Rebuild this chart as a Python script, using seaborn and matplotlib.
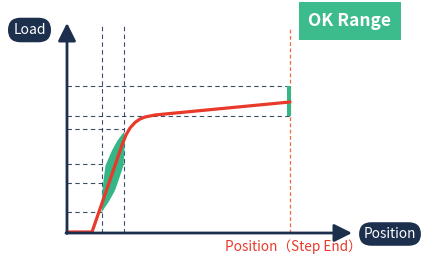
import matplotlib
matplotlib.use("Agg")
import matplotlib.pyplot as plt
import numpy as np
import seaborn as sns

# load curve (position, load) in arbitrary units
curve_pos = [0.0, 2.5, 4.3, 5.5, 5.9, 6.3, 6.8, 7.3, 7.8, 8.8, 9.8, 22.3]
curve_load = [0.1, 0.1, 5.3, 8.8, 9.8, 10.5, 11.05, 11.4, 11.6, 11.8, 11.9, 13.1]

# green judgement band along the rising slope
band_load = [2.1, 3.3, 4.3, 5.3, 6.8, 8.3, 9.3, 10.1]
band_left = [3.4, 3.45, 3.5, 3.6, 3.8, 4.45, 5.0, 5.6]
band_right = [3.4, 4.2, 4.75, 5.1, 5.6, 5.7, 5.7, 5.7]

# guide lines
h_levels = [14.7, 11.7, 10.4, 6.9, 5.0, 2.1]
h_ends = [22.3, 22.3, 5.7, 5.7, 3.5, 3.5]
v_guides = [3.5, 5.7]
step_end = 22.3
ok_low, ok_high = 11.7, 14.7

navy = "#1c2f4d"
red = "#e8392a"
green = "#34b686"

sns.set_theme(style="white")
plt.rcParams["font.family"] = ["Noto Sans CJK JP", "DejaVu Sans"]

fig = plt.figure(figsize=(4.21, 2.54), dpi=100)
ax = fig.add_axes([0, 0, 1, 1])
ax.set_xlim(-6.7, 35.4)
ax.set_ylim(-2.1, 23.3)
ax.axis("off")

# dashed guides
for lvl, end in zip(h_levels, h_ends):
    ax.plot([0, end], [lvl, lvl], color=navy, lw=0.8, dashes=(4, 3), alpha=0.85, zorder=1)
for x in v_guides:
    ax.plot([x, x], [0, 20.8], color=navy, lw=0.8, dashes=(4, 3), alpha=0.85, zorder=1)
ax.plot([step_end, step_end], [0, 20.6], color="#f06a3a", lw=0.9, dashes=(3, 2), zorder=1)

# band and OK range bar
ax.fill_betweenx(band_load, band_left, band_right, color=green, lw=0, zorder=2)
ax.fill_betweenx([ok_low, ok_high], step_end - 0.35, step_end + 0.1, color=green, lw=0, zorder=2)

# load curve
sns.lineplot(x=curve_pos, y=curve_load, sort=False, color=red, lw=2.3, ax=ax, zorder=3)

# axes with arrows
ax.annotate("", xy=(0, 21.0), xytext=(0, -0.05),
            arrowprops=dict(arrowstyle="-|>,head_length=0.9,head_width=0.45", color=navy, lw=2, shrinkA=0, shrinkB=0), zorder=4)
ax.annotate("", xy=(28.5, 0), xytext=(-0.1, 0),
            arrowprops=dict(arrowstyle="-|>,head_length=0.9,head_width=0.45", color=navy, lw=2, shrinkA=0, shrinkB=0), zorder=4)

# labels
ax.text(-3.75, 20.3, "Load", color="white", fontsize=10, ha="center", va="center",
        bbox=dict(boxstyle="round,pad=0.38,rounding_size=0.9", fc=navy, ec="none"))
ax.text(32.3, -0.1, "Position", color="white", fontsize=9.8, ha="center", va="center",
        bbox=dict(boxstyle="round,pad=0.35,rounding_size=0.9", fc=navy, ec="none"))
ax.text(22.6, -1.4, "Position（Step End）", color=red, fontsize=9.8, ha="center", va="center")
ax.text(28.3, 21.2, "OK Range", color="white", fontsize=12.5, fontweight="bold", ha="center", va="center",
        bbox=dict(boxstyle="square,pad=0.55", fc="#3cbb8c", ec="none"))

fig.savefig("out.png", dpi=100)
